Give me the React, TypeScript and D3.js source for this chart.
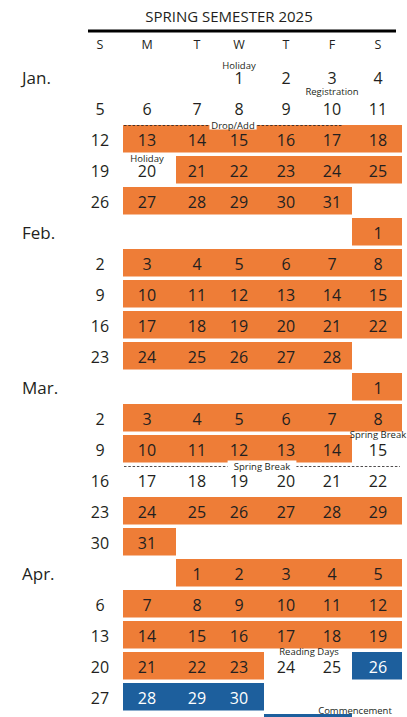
import React from "react";
import * as d3 from "d3";

const title = "SPRING SEMESTER 2025";
const weekdays = ["S", "M", "T", "W", "T", "F", "S"];

// one entry per calendar row
const rowMonths = ["Jan.", "", "", "", "", "Feb.", "", "", "", "", "Mar.", "", "", "", "", "", "Apr.", "", "", "", "", "May"];
const weeks: (number | null)[][] = [
  [null, null, null, 1, 2, 3, 4],
  [5, 6, 7, 8, 9, 10, 11],
  [12, 13, 14, 15, 16, 17, 18],
  [19, 20, 21, 22, 23, 24, 25],
  [26, 27, 28, 29, 30, 31, null],
  [null, null, null, null, null, null, 1],
  [2, 3, 4, 5, 6, 7, 8],
  [9, 10, 11, 12, 13, 14, 15],
  [16, 17, 18, 19, 20, 21, 22],
  [23, 24, 25, 26, 27, 28, null],
  [null, null, null, null, null, null, 1],
  [2, 3, 4, 5, 6, 7, 8],
  [9, 10, 11, 12, 13, 14, 15],
  [16, 17, 18, 19, 20, 21, 22],
  [23, 24, 25, 26, 27, 28, 29],
  [30, 31, null, null, null, null, null],
  [null, null, 1, 2, 3, 4, 5],
  [6, 7, 8, 9, 10, 11, 12],
  [13, 14, 15, 16, 17, 18, 19],
  [20, 21, 22, 23, 24, 25, 26],
  [27, 28, 29, 30, null, null, null],
  [null, null, null, null, 1, 2, 3],
];
// O = class day, B = exam day, . = none
const dayStatus = [
  ".......",
  ".......",
  ".OOOOOO",
  "..OOOOO",
  ".OOOOO.",
  "......O",
  ".OOOOOO",
  ".OOOOOO",
  ".OOOOOO",
  ".OOOOO.",
  "......O",
  ".OOOOOO",
  ".OOOOO.",
  ".......",
  ".OOOOOO",
  ".O.....",
  "..OOOOO",
  ".OOOOOO",
  ".OOOOOO",
  ".OOO..B",
  ".BBB...",
  "....BB.",
];

const notes = [
  { text: "Holiday", row: 0, cols: [3, 3] },
  { text: "Registration", row: 0, cols: [5, 5] },
  { text: "Holiday", row: 3, cols: [1, 1] },
  { text: "Spring Break", row: 12, cols: [6, 6] },
  { text: "Reading Days", row: 19, cols: [4, 5] },
  { text: "Commencement", row: 21, cols: [5, 6] },
];
const noteDy = [-12, 14.5, -11.5, -14.5, -14.5, -17.5];

const spans = [
  { text: "Drop/Add", afterRow: 1, from: 1, to: 5 },
  { text: "Spring Break", afterRow: 12, from: 1, to: 6 },
];

const W = 407;
const H = 717;
const colCenters = [100, 147, 197, 239, 286, 332, 378];
const colEdges = [77, 123, 176, 218, 264, 309, 352, 402];
const ORANGE = "#ee7d37";
const BLUE = "#1d5f9d";
const INK = "#231f20";
const FONT = "'Open Sans', sans-serif";

export default function App() {
  const x = d3.scaleOrdinal<number, number>().domain(d3.range(7)).range(colCenters);
  const edge = d3.scaleOrdinal<number, number>().domain(d3.range(8)).range(colEdges);
  const y = d3.scaleLinear().domain([0, weeks.length - 1]).range([77.5, 77.5 + 31 * (weeks.length - 1)]);

  // group consecutive same-status days into bars
  const bars: { row: number; from: number; to: number; kind: string }[] = [];
  dayStatus.forEach((s, row) => {
    let i = 0;
    while (i < 7) {
      const k = s[i];
      if (k === ".") { i++; continue; }
      let j = i;
      while (j + 1 < 7 && s[j + 1] === k) j++;
      bars.push({ row, from: i, to: j, kind: k });
      i = j + 1;
    }
  });

  // rows whose numbers fall below the page are left out (only their bars peek in)
  const visible = (r: number) => y(r) - 6 < H;

  return (
    <div style={{ position: "absolute", left: 0, top: 0, width: W, height: H, overflow: "hidden" }}>
      <svg width={W} height={H} style={{ display: "block", fontFamily: FONT }}>
        <rect width={W} height={H} fill="#fff" />
        <text x={229} y={22} textAnchor="middle" fontSize={15} fill={INK}>{title}</text>
        <line x1={88} x2={396} y1={31} y2={31} stroke="#000" strokeWidth={3} />
        {weekdays.map((d, i) => (
          <text key={"wd" + i} x={x(i)} y={48.5} textAnchor="middle" fontSize={12.5} fill={INK}>{d}</text>
        ))}

        {bars.map((b, i) => (
          <rect key={"b" + i} x={edge(b.from)} width={edge(b.to + 1) - edge(b.from)}
            y={y(b.row) - 14.5} height={27.5} fill={b.kind === "B" ? BLUE : ORANGE} />
        ))}

        {rowMonths.map((m, r) => m && visible(r) ? (
          <text key={"m" + r} x={22} y={y(r) + 6} fontSize={17} fill={INK}>{m}</text>
        ) : null)}

        {weeks.map((wk, r) => visible(r) ? wk.map((d, c) => d == null ? null : (
          <text key={`d${r}-${c}`} x={x(c)} y={y(r) + 6} textAnchor="middle" fontSize={16}
            fill={dayStatus[r][c] === "B" ? "#fff" : INK}>{d}</text>
        )) : null)}

        {notes.map((n, i) => (
          <text key={"n" + i} x={(x(n.cols[0]) + x(n.cols[1])) / 2} y={y(n.row) + noteDy[i] + 3}
            textAnchor="middle" fontSize={9.5} fill={INK}>{n.text}</text>
        ))}

        {spans.map((s, i) => {
          const ly = (y(s.afterRow) + y(s.afterRow + 1)) / 2 + 1.5;
          const x1 = edge(s.from) + 1;
          const x2 = s.to === 6 ? edge(7) - 2 : x(s.to) + 10;
          const cx = (x1 + x2) / 2;
          const tw = s.text.length * 5.4;
          return (
            <g key={"s" + i}>
              <line x1={x1} x2={x2} y1={ly} y2={ly} stroke={INK} strokeWidth={0.8} strokeDasharray="2.5 1.8" />
              <rect x={cx - tw / 2 - 2} width={tw + 4} y={ly - 6} height={10} fill="#fff" />
              <text x={cx} y={ly + 3} textAnchor="middle" fontSize={9.5} fill={INK}>{s.text}</text>
            </g>
          );
        })}
      </svg>
    </div>
  );
}
